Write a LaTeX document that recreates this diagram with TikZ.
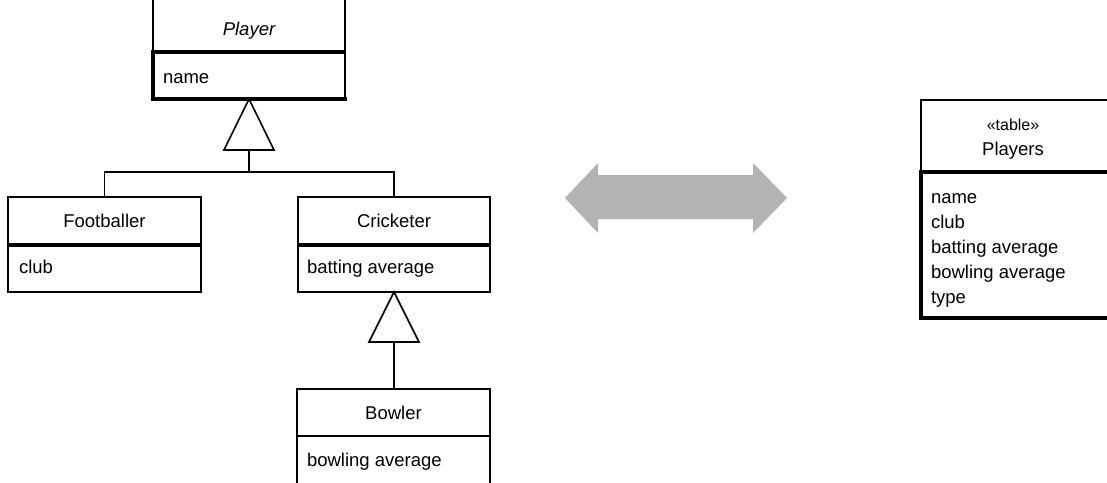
\documentclass[tikz,border=0pt]{standalone}
\usepackage{fontspec}
\setmainfont{Liberation Sans}
\definecolor{arrowgray}{HTML}{B4B2B5}
\begin{document}
\begin{tikzpicture}[x=1pt,y=-1pt,
  comp/.style={draw, line width=1.6pt, inner sep=0pt, outer sep=0pt},
  thinline/.style={line width=1.6pt},
  divline/.style={line width=3.2pt},
  heavyline/.style={line width=3.4pt, line cap=rect},
  lbl/.style={font=\fontsize{18.5}{25}\selectfont, inner sep=0pt, outer sep=0pt},
  small/.style={font=\fontsize{16}{20}\selectfont, inner sep=0pt, outer sep=0pt},
  bigarrow/.style={fill=arrowgray, draw=none}
]
\useasboundingbox (0,0) rectangle (1107,482);
\clip (0,0) rectangle (1107,482);

% ---- Player ----
\node[comp, minimum width=192pt, minimum height=72pt] (playerA) at (249,16) {};
\node[comp, minimum width=192pt, minimum height=47pt] (playerB) at (249,75.5) {};
\draw[divline] (playerB.north west) -- (playerB.north east);
\draw[heavyline] (playerB.north west) -- (playerB.south west) -- (playerB.south east);
\node[lbl, anchor=base] (playerName) at (249,35) {\itshape Player};
\node[lbl, anchor=base west] (playerAttr) at (163,83) {name};

% ---- Footballer ----
\node[comp, minimum width=193pt, minimum height=48pt] (footA) at (104.5,221) {};
\node[comp, minimum width=193pt, minimum height=47pt] (footB) at (104.5,268.5) {};
\draw[divline] (footB.north west) -- (footB.north east);
\node[lbl, anchor=base] (footName) at (104.5,227) {Footballer};
\node[lbl, anchor=base west] (footAttr) at (19,273) {club};

% ---- Cricketer ----
\node[comp, minimum width=192pt, minimum height=48pt] (crickA) at (394,221) {};
\node[comp, minimum width=192pt, minimum height=47pt] (crickB) at (394,268.5) {};
\draw[divline] (crickB.north west) -- (crickB.north east);
\node[lbl, anchor=base] (crickName) at (394,227) {Cricketer};
\node[lbl, anchor=base west] (crickAttr) at (307,273) {batting average};

% ---- Bowler ----
\node[comp, minimum width=193pt, minimum height=47pt] (bowlA) at (393.5,412.5) {};
\node[comp, minimum width=193pt, minimum height=64pt] (bowlB) at (393.5,468) {};
\node[lbl, anchor=base] (bowlName) at (393.5,419) {Bowler};
\node[lbl, anchor=base west] (bowlAttr) at (307,466) {bowling average};

% ---- generalisation Player <- Footballer, Cricketer ----
\coordinate (tri1base) at (249,150);
\coordinate (joint1) at (249,172);
\draw[thinline, fill=white, line join=miter] (playerB.south) -- (224,150) -- (274,150) -- cycle;
\draw[thinline] (tri1base) -- (joint1);
\draw[thinline] (joint1) -| (footA.north);
\draw[thinline] (joint1) -| (crickA.north);

% ---- generalisation Cricketer <- Bowler ----
\coordinate (tri2base) at (394,342);
\draw[thinline, fill=white, line join=miter] (crickB.south) -- (369,342) -- (419,342) -- cycle;
\draw[thinline] (tri2base) -- (tri2base |- bowlA.north);

% ---- double arrow ----
\fill[bigarrow] (565,198) -- (598,163) -- (598,175) -- (753,175) -- (753,163)
  -- (787,198) -- (753,233) -- (753,219) -- (598,219) -- (598,233) -- cycle;

% ---- Players table ----
\node[comp, minimum width=220pt, minimum height=72pt] (tabA) at (1031,136) {};
\node[comp, minimum width=220pt, minimum height=146pt] (tabB) at (1031,245) {};
\draw[divline] (tabB.north west) -- (tabB.north east);
\draw[heavyline] (tabB.north west) -- (tabB.south west) -- (tabB.south east);
\node[small, anchor=base] (tabStereo) at (1013,130) {«table»};
\node[lbl, anchor=base] (tabName) at (1013,155) {Players};
\node[lbl, anchor=base west] (tabAttr1) at (931,203) {name};
\node[lbl, anchor=base west] (tabAttr2) at (931,228) {club};
\node[lbl, anchor=base west] (tabAttr3) at (931,253) {batting average};
\node[lbl, anchor=base west] (tabAttr4) at (931,278) {bowling average};
\node[lbl, anchor=base west] (tabAttr5) at (931,303) {type};
\end{tikzpicture}
\end{document}
